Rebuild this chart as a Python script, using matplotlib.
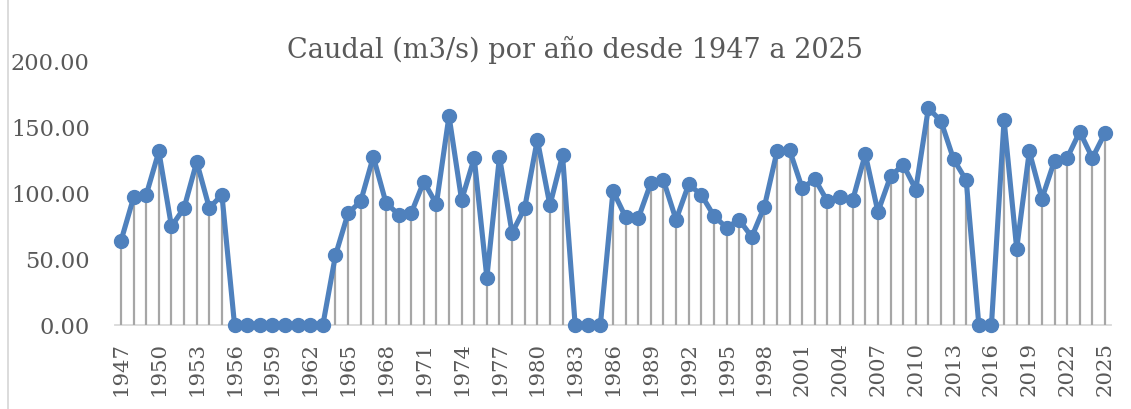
import matplotlib
matplotlib.use("Agg")
import matplotlib.pyplot as plt
from matplotlib.lines import Line2D

years = list(range(1947, 2026))
caudal = [
    64, 97, 99, 132, 75, 89, 124, 89, 99,          # 1947-1955
    0, 0, 0, 0, 0, 0, 0, 0,                        # 1956-1963
    53, 85, 94, 128, 93, 84, 85, 109, 92, 159,     # 1964-1973
    95, 127, 36, 128, 70, 89, 141, 91, 129,        # 1974-1982
    0, 0, 0,                                       # 1983-1985
    102, 82, 81, 108, 110, 80, 107, 99, 83, 74,    # 1986-1995
    80, 67, 90, 132, 133, 104, 111, 94, 97, 95,    # 1996-2005
    130, 86, 113, 122, 103, 165, 155, 126, 110,    # 2006-2014
    0, 0,                                          # 2015-2016
    156, 58, 132, 96, 125, 127, 147, 127, 146,     # 2017-2025
]
tick_labels = [str(y) for y in years[::3]]
title = "Caudal (m3/s) por año desde 1947 a 2025"

W, H = 1131, 409
fig = plt.figure(figsize=(W / 100, H / 100), dpi=100)
fig.patch.set_facecolor("white")

font = ["DejaVu Serif"]
txt_color = "#595959"

ax = fig.add_axes([114.7 / W, (H - 325) / H, (1111.3 - 114.7) / W, (325 - 62) / H])
x = list(range(len(years)))

ax.vlines(x, 0, caudal, colors="#A6A6A6", linewidth=1.6, zorder=1)
ax.plot(x, caudal, color="#4F81BD", linewidth=3.7, marker="o",
        markersize=10, markerfacecolor="#4F81BD", markeredgecolor="#4F81BD",
        zorder=3, clip_on=False, solid_joinstyle="round")

ax.set_xlim(-0.5, len(years) - 0.5)
ax.set_ylim(0, 200)
ax.set_yticks([0, 50, 100, 150, 200])
ax.set_yticklabels([f"{v:.2f}" for v in [0, 50, 100, 150, 200]],
                   fontfamily=font, fontsize=16.2, color=txt_color)
ax.set_xticks(x[::3])
ax.set_xticklabels(tick_labels, rotation=90, fontfamily=font, fontsize=15.3,
                   color=txt_color)
ax.tick_params(axis="both", length=0)
ax.tick_params(axis="y", pad=18)
ax.tick_params(axis="x", pad=12)

for s in ["top", "right", "left"]:
    ax.spines[s].set_visible(False)
ax.spines["bottom"].set_color("#D9D9D9")
ax.spines["bottom"].set_linewidth(1.3)
ax.spines["bottom"].set_zorder(0)

fig.text(575 / W, 1 - 50 / H, title, ha="center", va="center",
         fontfamily=font, fontsize=19.5, color=txt_color)

fig.add_artist(Line2D([8 / W, 8 / W], [0, 1], transform=fig.transFigure,
                      color="#D9D9D9", linewidth=1.3))

fig.savefig("out.png", dpi=100, facecolor="white")
